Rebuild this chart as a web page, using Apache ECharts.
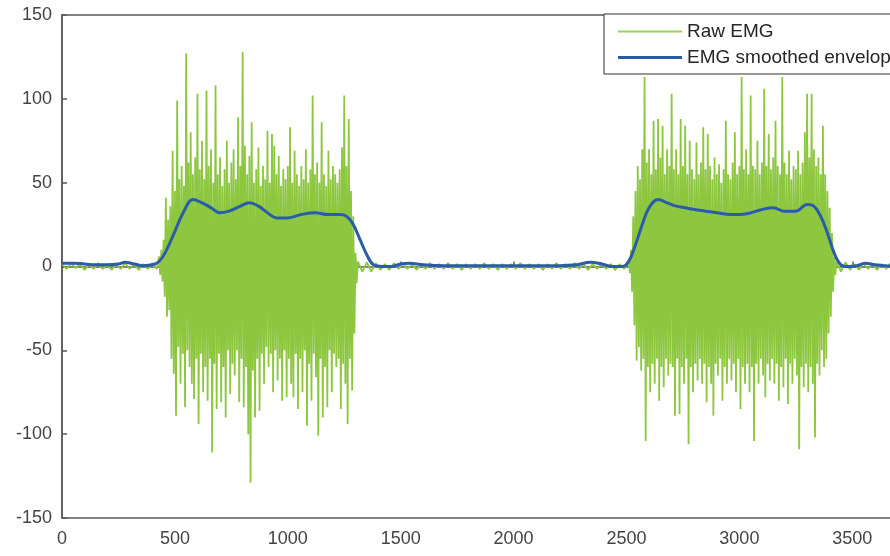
<!DOCTYPE html>
<html>
<head>
<meta charset="utf-8">
<script src="https://cdn.jsdelivr.net/npm/echarts@6/dist/echarts.min.js"></script>
<style>
  html, body { margin: 0; padding: 0; background: #fff; }
  #chart { width: 890px; height: 556px; }
</style>
</head>
<body>
<div id="chart"></div>
<script>
// raw EMG read off the picture: quiet stretches sampled every 20,
// bursts as up/down spike pairs every 10
const quiet1 = [1.5, -1.5, 2, -1, 1.5, -2, 1.5, -1.5, 2, -1.5, 1, -2, 1.5, -1.5, 2, -1.5, 1.5, -2, 1.5, -1.5, 2, -1.5]
const burst1Up = [6, 10, 16, 41, 28, 36, 69, 45, 99, 52,
  60, 48, 127, 62, 80, 55, 65, 103, 58, 75,
  52, 105, 60, 70, 50, 108, 55, 65, 48, 58,
  75, 50, 62, 70, 52, 89, 60, 128, 72, 55,
  66, 86, 50, 58, 71, 48, 60, 52, 81, 50,
  79, 72, 55, 66, 48, 58, 52, 60, 83, 50,
  69, 55, 48, 60, 52, 70, 50, 58, 102, 55,
  62, 50, 86, 55, 48, 69, 52, 60, 55, 50,
  58, 71, 102, 60, 88, 45, 30, 8]
const burst1Down = [-5, -9, -18, -30, -26, -55, -64, -89, -48, -70,
  -52, -84, -50, -60, -70, -79, -55, -94, -52, -75,
  -60, -80, -55, -111, -58, -85, -52, -81, -60, -90,
  -50, -76, -58, -65, -50, -81, -55, -84, -60, -100,
  -129, -62, -90, -55, -86, -52, -70, -48, -60, -52,
  -75, -50, -68, -55, -80, -50, -78, -55, -70, -78,
  -52, -85, -55, -75, -50, -95, -58, -80, -52, -66,
  -101, -55, -90, -60, -84, -50, -75, -52, -60, -55,
  -85, -58, -70, -94, -55, -74, -40, -10]
const quiet2 = [3, -3, 2.5, -3, 2, -2, 1.5, -2, 2, -1.5, 2, -1.5, 1.5, -2, 1.5, -1.5, 2, -1.5, 1.5, -1.5,
  2, -1.5, 1.5, -2, 1.5, -1.5, 1.5, -1.5, 2, -1.5, 1.5, -2, 1.5, -1.5, 1.5, -1.5, 2, -1.5, 1.5, -1.5,
  1.5, -2, 1.5, -1.5, 2, -1.5, 1.5, -1.5, 2, -1.5, 1.5, -2, 1.5, -1.5, 2, -1.5, 1.5, -2, 1.5, -1.5]
const burst2Up = [4, 10, 30, 45, 60, 52, 70, 113, 62, 70,
  55, 87, 58, 88, 65, 84, 55, 70, 60, 103,
  58, 70, 55, 88, 60, 84, 55, 75, 58, 52,
  74, 55, 62, 83, 58, 79, 60, 52, 65, 55,
  61, 50, 58, 87, 55, 52, 62, 80, 55, 60,
  113, 58, 70, 55, 102, 60, 58, 75, 55, 62,
  106, 60, 79, 58, 65, 87, 60, 55, 113, 62,
  55, 69, 52, 60, 58, 69, 55, 62, 80, 103,
  65, 103, 70, 60, 65, 55, 84, 55, 45, 35,
  20, 6]
const burst2Down = [-4, -15, -35, -56, -48, -62, -55, -104, -60, -75,
  -58, -70, -55, -80, -60, -72, -55, -65, -58, -60,
  -89, -55, -88, -60, -70, -55, -106, -60, -75, -58,
  -68, -55, -70, -58, -81, -60, -70, -89, -58, -65,
  -55, -80, -60, -70, -55, -68, -58, -75, -55, -85,
  -60, -70, -58, -75, -60, -104, -58, -70, -55, -65,
  -78, -58, -68, -55, -70, -58, -80, -60, -72, -55,
  -82, -58, -70, -55, -65, -109, -60, -72, -58, -75,
  -60, -70, -102, -58, -65, -50, -60, -55, -40, -30,
  -15, -5]
const quiet3 = [3, -3, 2.5, -2, 1.5, -2, 2, -1.5, 1.5, -2, 1.5, -1.5, 2, -1.5, 1.5, -2, 1.5, -1.5, 2]

// smoothed envelope
const envX = [0, 50, 100, 150, 200, 250, 280, 320, 360, 400, 430, 460, 500, 540, 580, 620, 660, 700, 740, 790,
  830, 870, 910, 950, 1000, 1060, 1120, 1180, 1230, 1260, 1290, 1320, 1350, 1380, 1420, 1460, 1500, 1540, 1600, 1700,
  1800, 1900, 2000, 2100, 2200, 2280, 2340, 2390, 2440, 2480, 2510, 2540, 2570, 2600, 2640, 2680, 2720, 2760, 2800, 2850,
  2900, 2960, 3000, 3050, 3100, 3150, 3200, 3250, 3300, 3330, 3360, 3390, 3420, 3450, 3480, 3520, 3560, 3600, 3650, 3700, 3800]
const envY = [2, 2, 1.5, 1, 1, 1.5, 2.5, 1.5, 0.5, 1, 3, 9, 21, 33, 40, 38, 35, 32, 33, 36,
  38, 36, 32, 29, 29, 31, 32, 31, 31, 30, 25, 16, 7, 1, 0, 0, 1.5, 2, 1, 0.5,
  0.5, 0.5, 0.5, 0.5, 0.5, 1, 2.5, 1.5, 0, 0, 3, 13, 25, 35, 40, 38, 36, 35, 34, 33,
  32, 31, 31, 32, 34, 35, 33, 33, 37, 36, 30, 20, 8, 1, 0, 0.5, 2, 1, 0.5, 0, 0]

const xTicks = { min: 0, max: 3800, interval: 500 }
const yTicks = { min: -150, max: 150, interval: 50 }

function seq(start, step, vals) {
  return vals.map((v, i) => [start + i * step, v])
}
function zigzag(start, step, ups, downs) {
  const out = []
  ups.forEach((u, i) => {
    out.push([start + i * step, u])
    out.push([start + i * step + step / 2, downs[i]])
  })
  return out
}

const raw = [].concat(
  seq(0, 20, quiet1),
  zigzag(430, 10, burst1Up, burst1Down),
  seq(1310, 20, quiet2),
  zigzag(2510, 10, burst2Up, burst2Down),
  seq(3430, 20, quiet3)
)
const env = envX.map((x, i) => [x, envY[i]])

const font = "'Liberation Sans', Arial, sans-serif"
const axisColor = '#5a5a5a'
const rawColor = '#8dc63f'
const envColor = '#2a5caa'

const myChart = echarts.init(document.getElementById('chart'))
myChart.setOption({
  animation: false,
  backgroundColor: '#fff',
  grid: {
    left: 62, top: 15, right: -30, bottom: 38,
    show: true, borderColor: axisColor, borderWidth: 1.5,
    outerBoundsMode: 'none'
  },
  legend: {
    orient: 'vertical',
    left: 604, top: 14,
    padding: [8, 10, 7, 14],
    itemGap: 7,
    itemWidth: 64,
    itemHeight: 14,
    backgroundColor: '#fff',
    borderColor: '#333',
    borderWidth: 1,
    textStyle: { fontSize: 19, color: '#262626', fontFamily: font },
    data: [
      { name: 'Raw EMG', icon: 'path://M0,0 H64 V2 H0 Z', itemStyle: { color: '#9ccf5c' } },
      { name: 'EMG smoothed envelope', icon: 'path://M0,0 H64 V3 H0 Z', itemStyle: { color: envColor } }
    ]
  },
  xAxis: {
    type: 'value',
    min: xTicks.min, max: xTicks.max, interval: xTicks.interval,
    axisLine: { lineStyle: { color: axisColor, width: 1.5 } },
    axisTick: { inside: true, length: 5, lineStyle: { color: axisColor, width: 1.5 } },
    axisLabel: {
      fontSize: 18, color: '#444', fontFamily: font, margin: 12, showMaxLabel: false,
      formatter: v => String(v)
    },
    splitLine: { show: false }
  },
  yAxis: {
    type: 'value',
    min: yTicks.min, max: yTicks.max, interval: yTicks.interval,
    axisLine: { show: true, lineStyle: { color: axisColor, width: 1.5 } },
    axisTick: { show: true, inside: true, length: 5, lineStyle: { color: axisColor, width: 1.5 } },
    axisLabel: { fontSize: 18, color: '#444', fontFamily: font, margin: 10 },
    splitLine: { show: false }
  },
  series: [
    {
      name: 'Raw EMG',
      type: 'line',
      data: raw,
      showSymbol: false,
      symbol: 'none',
      sampling: null,
      lineStyle: { color: rawColor, width: 1.8 },
      itemStyle: { color: rawColor },
      z: 2
    },
    {
      name: 'EMG smoothed envelope',
      type: 'line',
      data: env,
      smooth: 0.4,
      showSymbol: false,
      symbol: 'none',
      lineStyle: { color: envColor, width: 3 },
      itemStyle: { color: envColor },
      z: 3
    }
  ]
})
</script>
</body>
</html>
